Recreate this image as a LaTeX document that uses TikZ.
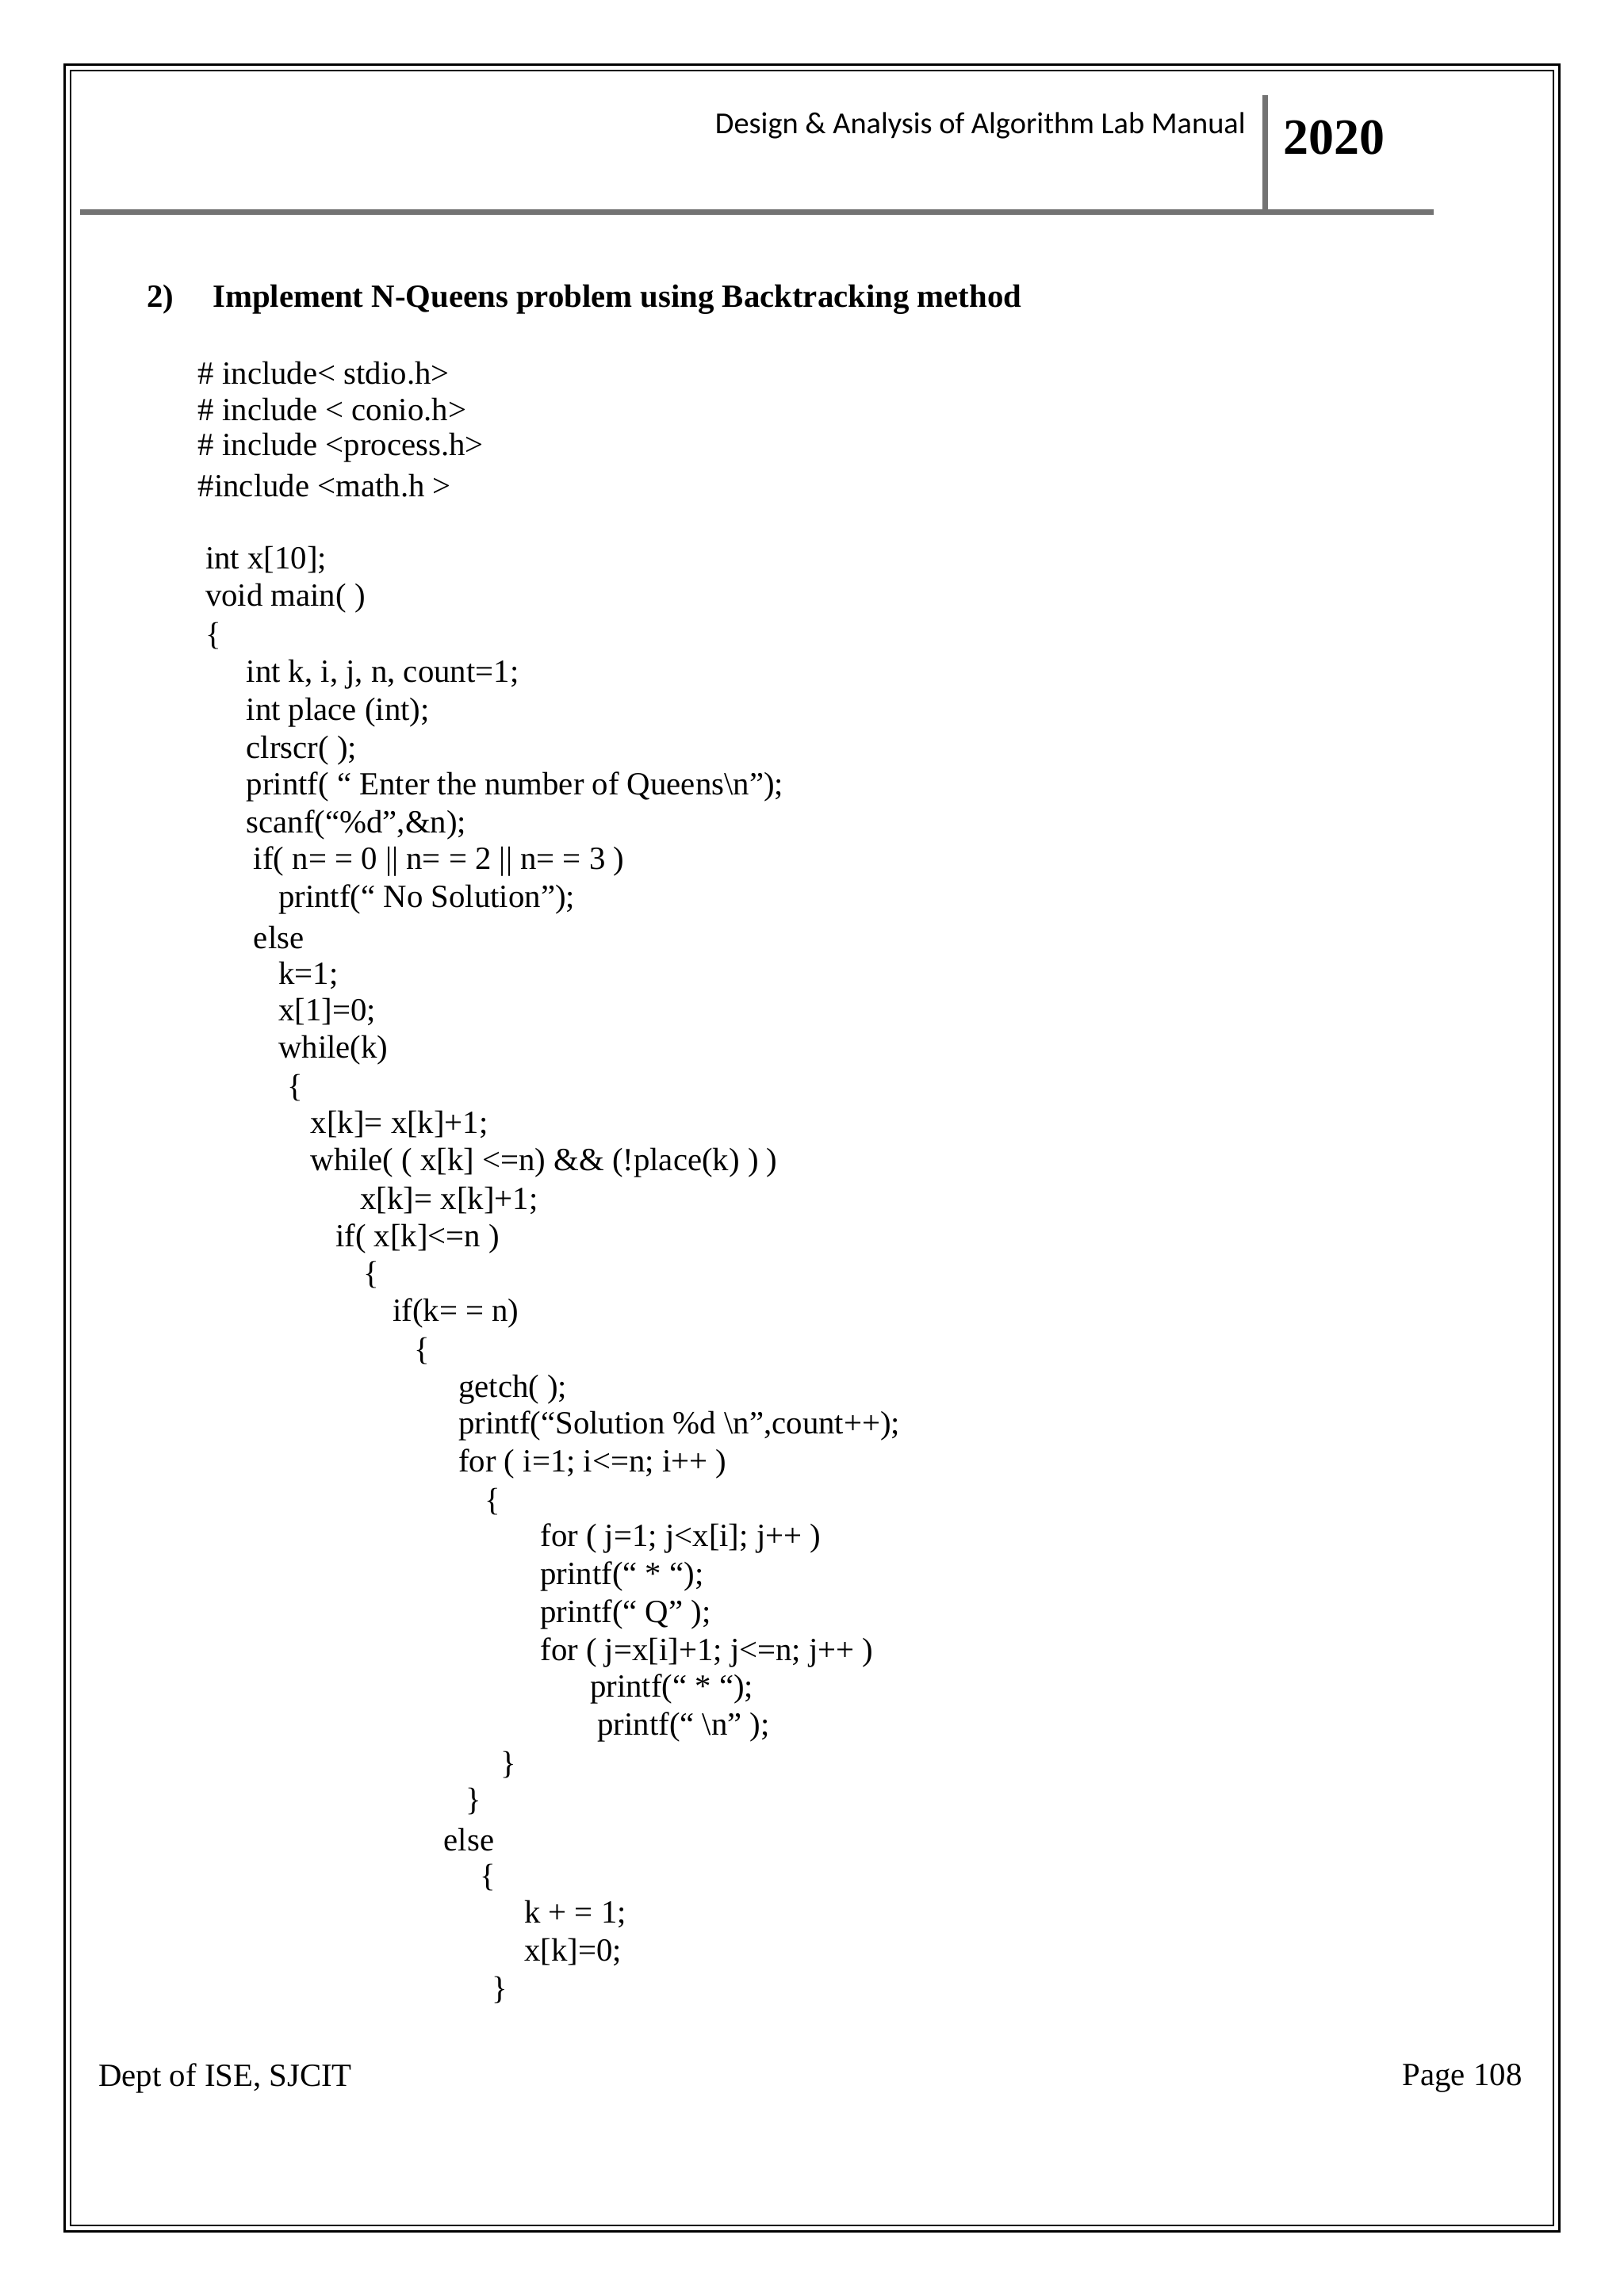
\documentclass[tikz,border=0pt]{standalone}
\usepackage{fontspec}
\setmainfont{Liberation Serif}
\newfontfamily\hdfont{Carlito}
\begin{document}
\begin{tikzpicture}[x=0.4613pt,y=-0.4613pt,
  code/.style={anchor=west,inner sep=0pt,font=\fontsize{10.2}{12}\selectfont},
  rule/.style={draw=black!55,line width=1.6pt}]
\useasboundingbox (0,0) rectangle (1110,1570);
\draw[line width=0.8pt] (44,44) rectangle (1066,1526);
\draw[line width=0.5pt] (48,48) rectangle (1062,1522);
\draw[rule] (55,145) -- (980,145);
\draw[rule] (865,65) -- (865,145);
\node[anchor=east,inner sep=0pt,font=\hdfont\fontsize{9.6}{11}\selectfont] (hd) at (852,86) {Design \& Analysis of Algorithm Lab Manual};
\node[anchor=west,inner sep=0pt,font=\fontsize{16}{18}\bfseries\selectfont] (yr) at (877,94) {2020};
\node[code,font=\fontsize{10.2}{12}\bfseries\selectfont] (t) at (100,205) {2)\hspace{1.2em}Implement N-Queens problem using Backtracking method};
\foreach \n/\x/\y/\s in {
a1/135/255/{\# include< stdio.h>},
a2/135/280/{\# include < conio.h>},
a3/135/306/{\# include <process.h>},
a4/135/332/{\#include <math.h >},
b1/140/383/{int x[10];},
b2/140/409/{void main( )},
b3/140/435/{\{},
c1/168/461/{int k, i, j, n, count=1;},
c2/168/487/{int place (int);},
c3/168/513/{clrscr( );},
c4/168/538/{printf( “ Enter the number of Queens\textbackslash n”);},
c5/168/564/{scanf(“\%d”,\&n);},
c6/173/589/{if( n= = 0 || n= = 2 || n= = 3 )},
c7/190/615/{printf(“ No Solution”);},
c8/173/641/{else},
c9/190/667/{k=1;},
d1/190/692/{x[1]=0;},
d2/190/718/{while(k)},
d3/196/744/{\{},
d4/212/769/{x[k]= x[k]+1;},
d5/212/795/{while( ( x[k] <=n) \&\& (!place(k) ) )},
d6/246/821/{x[k]= x[k]+1;},
d7/229/847/{if( x[k]<=n )},
d8/248/872/{\{},
d9/268/898/{if(k= = n)},
e1/283/924/{\{},
e2/313/950/{getch( );},
e3/313/975/{printf(“Solution \%d \textbackslash n”,count++);},
e4/313/1001/{for ( i=1; i<=n; i++ )},
e5/331/1027/{\{},
e6/369/1052/{for ( j=1; j<x[i]; j++ )},
e7/369/1078/{printf(“ * “);},
e8/369/1104/{printf(“ Q” );},
e9/369/1130/{for ( j=x[i]+1; j<=n; j++ )},
f1/403/1155/{printf(“ * “);},
f2/408/1181/{printf(“ \textbackslash n” );},
f3/342/1207/{\}},
f4/318/1232/{\}},
f5/303/1258/{else},
f6/328/1284/{\{},
f7/358/1309/{k + = 1;},
f8/358/1335/{x[k]=0;},
f9/336/1361/{\}}}
  \node[code] (\n) at (\x,\y) {\s};
\node[code] (ft1) at (67,1421) {Dept of ISE, SJCIT};
\node[code,anchor=east] (ft2) at (1041,1421) {Page 108};
\end{tikzpicture}
\end{document}
